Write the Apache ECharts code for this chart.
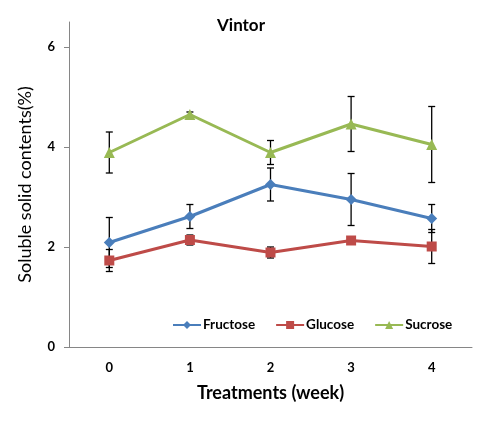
<!DOCTYPE html>
<html>
<head>
<meta charset="utf-8">
<script src="https://cdn.jsdelivr.net/npm/echarts@6/dist/echarts.min.js"></script>
<style>html,body{margin:0;padding:0;background:#fff}#c{width:482px;height:429px}</style>
</head>
<body>
<div id="c"></div>
<script>
var categories = ['0', '1', '2', '3', '4'];
var fructose = [2.09, 2.61, 3.25, 2.95, 2.57];
var glucose = [1.73, 2.14, 1.89, 2.13, 2.01];
var sucrose = [3.89, 4.65, 3.89, 4.46, 4.05];
var fructoseErr = [0.5, 0.24, 0.33, 0.52, 0.28];
var glucoseErr = [0.22, 0.1, 0.11, 0.05, 0.34];
var sucroseErr = [0.41, 0.05, 0.24, 0.55, 0.76];
var yTicks = [0, 2, 4, 6];

var FONT = 'Lato';
function errData(vals, errs) {
  return vals.map(function (v, i) { return [i, v - errs[i], v + errs[i]]; });
}
function errSeries(vals, errs) {
  return {
    type: 'custom',
    silent: true,
    z: 1,
    data: errData(vals, errs),
    encode: { x: 0, y: [1, 2] },
    renderItem: function (params, api) {
      var x = api.value(0);
      var lo = api.coord([x, api.value(1)]);
      var hi = api.coord([x, api.value(2)]);
      var w = 3.5;
      var st = { stroke: '#000', lineWidth: 1.3 };
      return {
        type: 'group',
        children: [
          { type: 'line', shape: { x1: lo[0], y1: lo[1], x2: hi[0], y2: hi[1] }, style: st },
          { type: 'line', shape: { x1: lo[0] - w, y1: lo[1], x2: lo[0] + w, y2: lo[1] }, style: st },
          { type: 'line', shape: { x1: hi[0] - w, y1: hi[1], x2: hi[0] + w, y2: hi[1] }, style: st }
        ]
      };
    }
  };
}
function lineSeries(name, vals, color, symbol, size) {
  return {
    name: name, type: 'line', data: vals, z: 3,
    symbol: symbol, symbolSize: size,
    lineStyle: { color: color, width: 3 },
    itemStyle: { color: color },
    emphasis: { disabled: true }
  };
}
var chart = echarts.init(document.getElementById('c'), null, { renderer: 'canvas' });
chart.setOption({
  animation: false,
  backgroundColor: '#fff',
  title: {
    text: 'Vintor', left: 'center', top: 12,
    textStyle: { fontFamily: FONT, fontWeight: 'bold', fontSize: 17, color: '#000' }
  },
  legend: {
    left: 167, top: 313, itemGap: 20, itemWidth: 28, itemHeight: 10,
    data: ['Fructose', 'Glucose', 'Sucrose'],
    textStyle: { fontFamily: FONT, fontWeight: 'bold', fontSize: 13.5, color: '#000', padding: [0, 0, 0, -3] }
  },
  grid: { left: 69, right: 10, top: 22, bottom: 82 },
  xAxis: {
    type: 'category', data: categories, boundaryGap: true,
    name: 'Treatments (week)', nameLocation: 'middle', nameGap: 37,
    nameTextStyle: { fontFamily: FONT, fontWeight: 'bold', fontSize: 18, color: '#000' },
    axisLine: { lineStyle: { color: '#868686', width: 1 } },
    axisTick: { length: 5, lineStyle: { color: '#868686' } },
    axisLabel: { fontFamily: FONT, fontWeight: 'bold', fontSize: 13, color: '#000', margin: 14 }
  },
  yAxis: {
    type: 'value', min: 0, max: 6.5, interval: 2,
    name: 'Soluble solid contents(%)', nameLocation: 'middle', nameGap: 35,
    nameTextStyle: { fontFamily: FONT, fontSize: 18, color: '#000' },
    splitLine: { show: false },
    axisLine: { show: true, lineStyle: { color: '#868686', width: 1 } },
    axisTick: { show: true, length: 5, lineStyle: { color: '#868686' }, customValues: yTicks },
    axisLabel: { fontFamily: FONT, fontWeight: 'bold', fontSize: 13, color: '#000', margin: 14, customValues: yTicks }
  },
  series: [
    errSeries(fructose, fructoseErr),
    errSeries(glucose, glucoseErr),
    errSeries(sucrose, sucroseErr),
    lineSeries('Fructose', fructose, '#4a7ebb', 'diamond', 11),
    lineSeries('Glucose', glucose, '#be4b48', 'rect', 10),
    lineSeries('Sucrose', sucrose, '#98b954', 'triangle', 11)
  ]
});
</script>
</body>
</html>
